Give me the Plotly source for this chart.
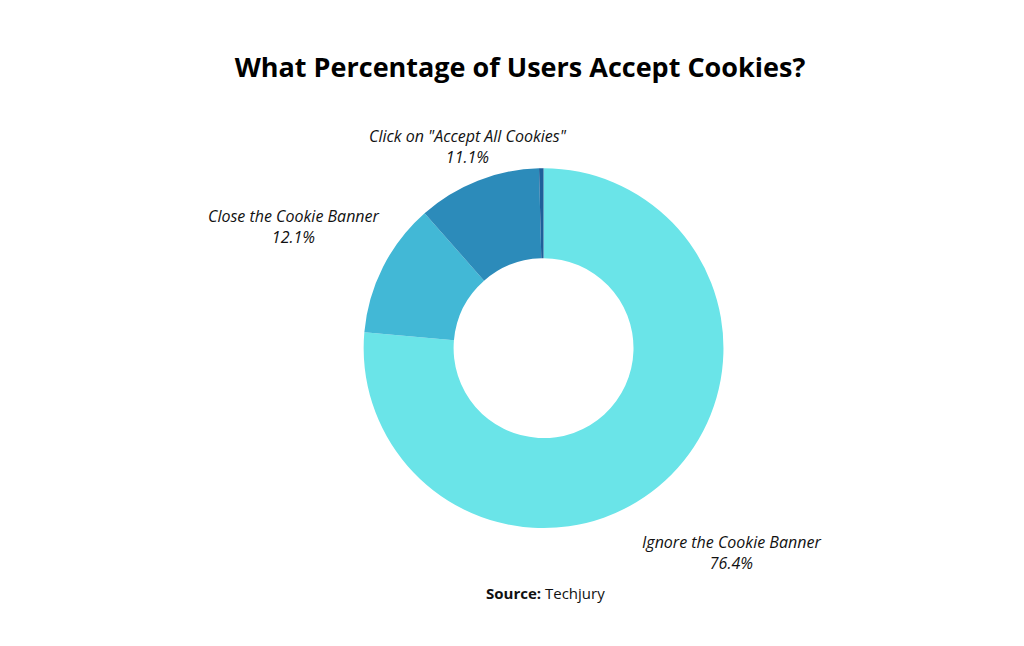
import plotly.graph_objects as go

labels = ["Ignore the Cookie Banner", "Close the Cookie Banner", 'Click on "Accept All Cookies"', "Other"]
values = [76.4, 12.1, 11.1, 0.4]
colors = ["#6AE4E8", "#42B8D6", "#2C8BBA", "#1F5F99"]

fig = go.Figure(go.Pie(
    labels=labels, values=values, hole=0.5, sort=False,
    direction="clockwise", rotation=0,
    marker=dict(colors=colors, line=dict(width=0)),
    textinfo="none", showlegend=False,
    domain=dict(x=[0.347, 0.699], y=[0.195, 0.752]),
))

# outside labels: (label index, x px, y px)
label_pos = [(0, 723, 544), (1, 286, 219), (2, 460, 138)]
ann = []
for i, x, y in label_pos:
    ann.append(dict(
        x=x / 1024, y=1 - y / 646, xref="paper", yref="paper",
        text=f"<i>{labels[i]}<br>{values[i]}%</i>", showarrow=False,
        font=dict(family="Open Sans", size=16, color="#111"),
        align="center", xanchor="center", yanchor="middle",
    ))
ann.append(dict(
    x=537 / 1024, y=1 - 597 / 646, xref="paper", yref="paper",
    text="<b>Source:</b> Techjury", showarrow=False,
    font=dict(family="Open Sans", size=15, color="#111"),
))

fig.update_layout(
    title=dict(text="<b>What Percentage of Users Accept Cookies?</b>",
               x=0.5, y=1 - 60 / 646, xanchor="center", yanchor="middle",
               font=dict(family="Open Sans", size=27, color="black")),
    annotations=ann,
    width=1024, height=646,
    margin=dict(l=0, r=0, t=0, b=0),
    paper_bgcolor="white",
)

fig.write_html("out.html")
